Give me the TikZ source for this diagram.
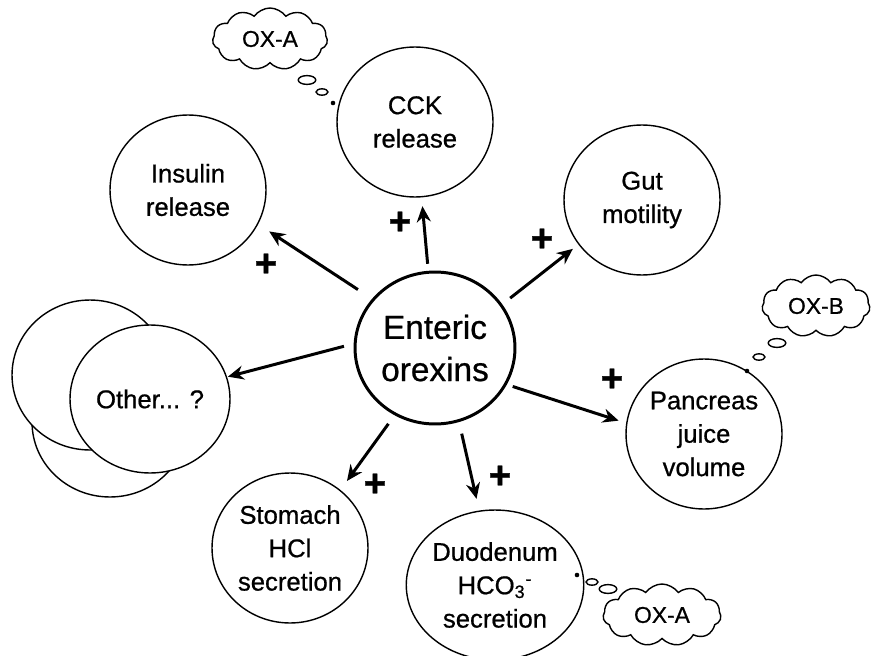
\documentclass[tikz,border=0pt]{standalone}
\usepackage{fontspec}
\setmainfont{Liberation Sans}[FakeBold=0.7]
\usetikzlibrary{positioning}
\usetikzlibrary{arrows.meta}
\usetikzlibrary{shapes}
\tikzset{
        % Effect nodes
        node_effect/.style={ellipse, draw=black, line width=0.8pt, fill=white, align=center, inner sep=0pt, minimum width=3.12cm, minimum height=3cm, font=\fontsize{14.6}{19}\selectfont},
        % Center node
        node_center/.style={node_effect, line width=1.7pt, minimum width=3.2cm, minimum height=3.04cm, font=\fontsize{19}{24}\selectfont},
        % Thought clouds
        node_cloud/.style={cloud, draw=black, line width=0.8pt, cloud puffs=11, cloud puff arc=110, cloud ignores aspect, inner sep=1pt, minimum width=2.3cm, minimum height=1.24cm, font=\fontsize{13}{15}\selectfont},
        % Plus signs
        node_plus/.style={inner sep=0pt, font=\fontsize{22}{22}\selectfont\bfseries},
        % Cloud bubbles
        bubble/.style={draw=black, line width=0.8pt, fill=white},
        % Arrows
        arrow_effect/.style={-{Stealth[length=9pt,width=8pt]}, line width=1.7pt}
}
\begin{document}
\begin{tikzpicture}[x=0.02cm, y=-0.02cm]
    \useasboundingbox (0,0) rectangle (871,655);
    \node[node_center] (ent) at (435,348) {Enteric\\orexins};
    \node[node_effect] (cck) at (415,122) {CCK\\release};
    \node[node_effect] (ins) at (188,190) {Insulin\\release};
    \node[node_effect] (gut) at (642,200) {Gut\\motility};
    \node[node_effect] (pan) at (704,434) {Pancreas\\juice\\volume};
    \node[node_effect, minimum width=3.2cm] (duo) at (495,585) {Duodenum\\HCO\textsubscript{3}\textsuperscript{-}\\secretion};
    \node[node_effect] (sto) at (290,548) {Stomach\\HCl\\secretion};
    % Other, stacked
    \node[node_effect] (oth_b2) at (110,422) {};
    \node[node_effect] (oth_b1) at (90,375) {};
    \node[node_effect, minimum width=3.2cm, minimum height=2.96cm] (oth) at (150,399) {Other... ?};

    \draw[arrow_effect, shorten <=9.6pt, shorten >=7.5pt] (ent.142) -- (ins.-26);
    \draw[arrow_effect, shorten <=4pt, shorten >=5pt] (ent.95) -- (cck.-85);
    \draw[arrow_effect, shorten <=5.7pt, shorten >=4pt] (ent.33) -- (gut.-145);
    \draw[arrow_effect, shorten <=3.5pt, shorten >=4.5pt] (ent.-27) -- (pan.172);
    \draw[arrow_effect, shorten <=6.8pt, shorten >=6.8pt] (ent.-72) -- (duo.102);
    \draw[arrow_effect, shorten <=6pt, shorten >=6.3pt] (ent.-121) -- (sto.49);
    \draw[arrow_effect, shorten <=5.7pt, shorten >=0.5pt] (ent.177) -- (oth.16);

    \node[node_plus] (p_ins) at (266,265) {+};
    \node[node_plus] (p_cck) at (400,223) {+};
    \node[node_plus] (p_gut) at (542,240) {+};
    \node[node_plus] (p_pan) at (612,380) {+};
    \node[node_plus] (p_duo) at (500,477) {+};
    \node[node_plus] (p_sto) at (375,485) {+};

    % Thought clouds
    \node[node_cloud] (ox_cck) at (270,39) {OX-A};
    \node[node_cloud, minimum width=2.16cm] (ox_pan) at (816,306) {OX-B};
    \node[node_cloud, minimum width=2.36cm] (ox_duo) at (662,615) {OX-A};
    \draw[bubble] (307,80) ellipse [x radius=5pt, y radius=2.5pt];
    \draw[bubble] (322,92) ellipse [x radius=3.4pt, y radius=1.8pt];
    \fill (333,103) circle [radius=1.3pt];
    \draw[bubble] (777,343) ellipse [x radius=5pt, y radius=2.5pt];
    \draw[bubble] (759,357) ellipse [x radius=3.4pt, y radius=1.8pt];
    \fill (747,371) circle [radius=1.3pt];
    \draw[bubble] (608,589) ellipse [x radius=5pt, y radius=2.5pt];
    \draw[bubble] (592,582) ellipse [x radius=3.4pt, y radius=1.8pt];
    \fill (577,575) circle [radius=1.3pt];
\end{tikzpicture}
\end{document}
